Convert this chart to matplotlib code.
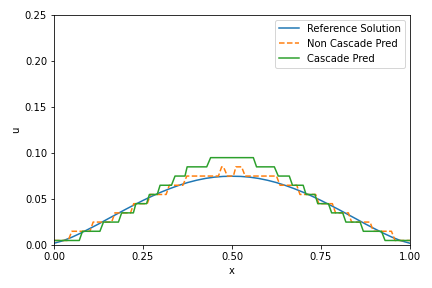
import matplotlib
matplotlib.use("Agg")
import matplotlib.pyplot as plt

ref_x = [0.000, 0.025, 0.050, 0.075, 0.100, 0.125, 0.150, 0.175, 0.200, 0.225,
         0.250, 0.275, 0.300, 0.325, 0.350, 0.375, 0.400, 0.425, 0.450, 0.475,
         0.500, 0.525, 0.550, 0.575, 0.600, 0.625, 0.650, 0.675, 0.700, 0.725,
         0.750, 0.775, 0.800, 0.825, 0.850, 0.875, 0.900, 0.925, 0.950, 0.975, 1.000]
ref_y = [0.0020, 0.0047, 0.0085, 0.0130, 0.0179, 0.0229, 0.0282, 0.0334, 0.0386, 0.0436,
         0.0485, 0.0531, 0.0574, 0.0613, 0.0648, 0.0679, 0.0704, 0.0724, 0.0738, 0.0746,
         0.0748, 0.0746, 0.0738, 0.0724, 0.0704, 0.0679, 0.0648, 0.0613, 0.0574, 0.0531,
         0.0485, 0.0436, 0.0386, 0.0334, 0.0282, 0.0229, 0.0179, 0.0130, 0.0085, 0.0047, 0.0020]

noncasc_x = [0.000, 0.040, 0.050, 0.101, 0.110, 0.162, 0.171, 0.215, 0.224, 0.262,
             0.271, 0.315, 0.324, 0.362, 0.373, 0.462, 0.471, 0.476, 0.487, 0.504,
             0.511, 0.527, 0.537, 0.625, 0.635, 0.682, 0.691, 0.735, 0.744, 0.782,
             0.791, 0.827, 0.836, 0.888, 0.897, 0.948, 0.958, 1.000]
noncasc_y = [0.005, 0.005, 0.015, 0.015, 0.025, 0.025, 0.035, 0.035, 0.045, 0.045,
             0.055, 0.055, 0.065, 0.065, 0.075, 0.075, 0.085, 0.085, 0.075, 0.075,
             0.085, 0.085, 0.075, 0.075, 0.065, 0.065, 0.055, 0.055, 0.045, 0.045,
             0.035, 0.035, 0.025, 0.025, 0.015, 0.015, 0.005, 0.005]

casc_x = [0.000, 0.071, 0.080, 0.129, 0.139, 0.181, 0.190, 0.223, 0.230, 0.260,
          0.268, 0.290, 0.298, 0.330, 0.340, 0.368, 0.374, 0.429, 0.440, 0.560,
          0.569, 0.619, 0.630, 0.661, 0.670, 0.700, 0.708, 0.733, 0.741, 0.771,
          0.780, 0.811, 0.820, 0.860, 0.869, 0.920, 0.930, 1.000]
casc_y = [0.005, 0.005, 0.015, 0.015, 0.025, 0.025, 0.035, 0.035, 0.045, 0.045,
          0.055, 0.055, 0.065, 0.065, 0.075, 0.075, 0.085, 0.085, 0.095, 0.095,
          0.085, 0.085, 0.075, 0.075, 0.065, 0.065, 0.055, 0.055, 0.045, 0.045,
          0.035, 0.035, 0.025, 0.025, 0.015, 0.015, 0.005, 0.005]

fig, ax = plt.subplots(figsize=(6, 4), dpi=72)
fig.subplots_adjust(left=0.125, right=0.949, top=0.948, bottom=0.149)

ax.plot(ref_x, ref_y, color="#1f77b4", label="Reference Solution")
ax.plot(noncasc_x, noncasc_y, color="#ff7f0e", linestyle="--", label="Non Cascade Pred")
ax.plot(casc_x, casc_y, color="#2ca02c", label="Cascade Pred")

ax.set_xlim(0, 1)
ax.set_ylim(0, 0.25)
ax.set_xticks([0, 0.25, 0.5, 0.75, 1.0])
ax.set_yticks([0, 0.05, 0.10, 0.15, 0.20, 0.25])
ax.set_xticklabels(["0.00", "0.25", "0.50", "0.75", "1.00"])
ax.set_yticklabels(["0.00", "0.05", "0.10", "0.15", "0.20", "0.25"])
ax.set_xlabel("x")
ax.set_ylabel("u")
ax.legend(loc="upper right")

fig.savefig("out.png", dpi=72)
